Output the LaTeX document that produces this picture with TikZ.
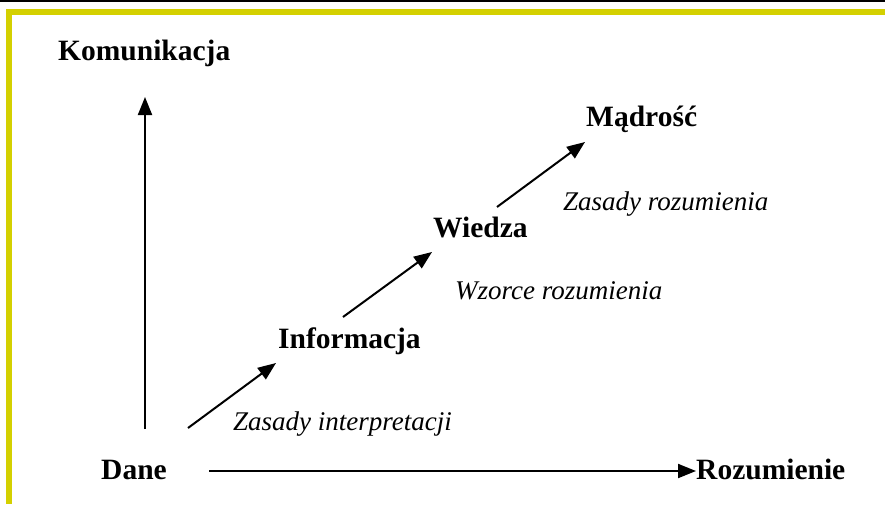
\documentclass[tikz,border=0pt]{standalone}
\usepackage{fontspec}
\setmainfont{Liberation Serif}
\usetikzlibrary{arrows.meta}
\definecolor{frameyellow}{RGB}{212,208,0}
\tikzset{
  lbl/.style={font=\fontsize{29.5}{30}\selectfont\bfseries, inner sep=0pt, anchor=base west},
  itl/.style={font=\fontsize{27}{28}\selectfont\itshape, inner sep=0pt, anchor=base west},
  arr/.style={line width=2pt, -{Triangle[length=18pt,width=14pt]}}
}
\begin{document}
\begin{tikzpicture}[x=1pt,y=-1pt]
\useasboundingbox (0,0) rectangle (885,504);
\fill[white] (0,0) rectangle (885,504);
% top black rule and yellow frame
\fill[black] (0,0) rectangle (885,1.5);
\fill[frameyellow] (6,9) rectangle (885,15);
\fill[frameyellow] (6,9) rectangle (12,504);
% labels
\node[lbl] (kom) at (58,60) {Komunikacja};
\node[lbl] (dane) at (101,479) {Dane};
\node[lbl] (roz) at (696,479) {Rozumienie};
\node[lbl] (inf) at (278,348) {Informacja};
\node[lbl] (wie) at (433,237) {Wiedza};
\node[lbl] (mad) at (586,126) {Mądrość};
\node[itl] (zi) at (233,430) {Zasady interpretacji};
\node[itl] (wr) at (455,299) {Wzorce rozumienia};
\node[itl] (zr) at (563,210) {Zasady rozumienia};
% connector endpoints
\coordinate (v0) at (145,429);
\coordinate (v1) at (145,97);
\coordinate (h0) at (209,471);
\coordinate (h1) at (696,471);
\coordinate (a0) at (188,428);
\coordinate (a1) at (276,363);
\coordinate (b0) at (343,317);
\coordinate (b1) at (432,252);
\coordinate (c0) at (497,207);
\coordinate (c1) at (585,142);
\draw[arr] (v0) -- (v1);
\draw[arr] (h0) -- (h1);
\draw[arr] (a0) -- (a1);
\draw[arr] (b0) -- (b1);
\draw[arr] (c0) -- (c1);
\end{tikzpicture}
\end{document}
